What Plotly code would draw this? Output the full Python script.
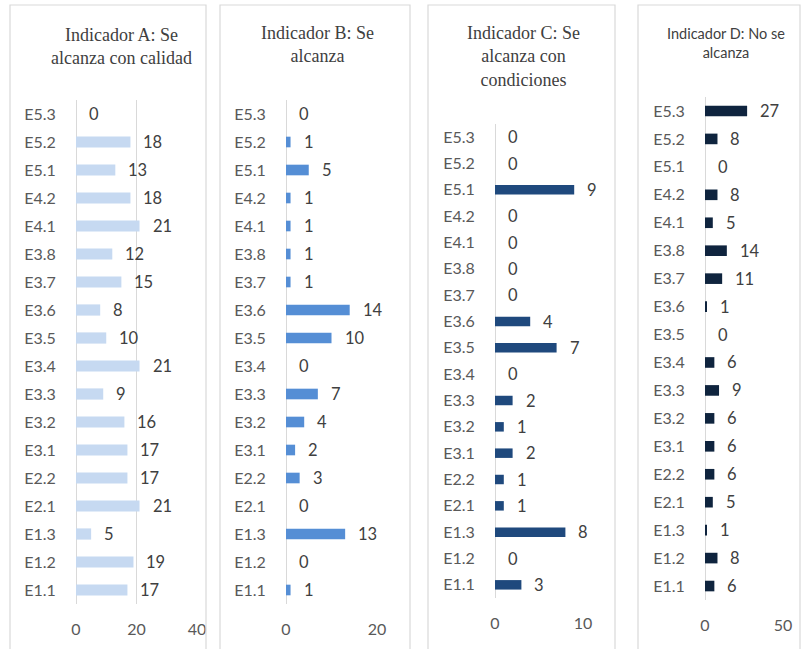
import plotly.graph_objects as go

# Categories listed bottom to top
categories = ["E1.1", "E1.2", "E1.3", "E2.1", "E2.2", "E3.1", "E3.2", "E3.3", "E3.4",
              "E3.5", "E3.6", "E3.7", "E3.8", "E4.1", "E4.2", "E5.1", "E5.2", "E5.3"]

ind_a = [17, 19, 5, 21, 17, 17, 16, 9, 21, 10, 8, 15, 12, 21, 18, 13, 18, 0]
ind_b = [1, 0, 13, 0, 3, 2, 4, 7, 0, 10, 14, 1, 1, 1, 1, 5, 1, 0]
ind_c = [3, 0, 8, 1, 1, 2, 1, 2, 0, 7, 4, 0, 0, 0, 0, 9, 0, 0]
ind_d = [6, 8, 1, 5, 6, 6, 6, 9, 6, 0, 1, 11, 14, 5, 8, 0, 8, 27]

titles = ["Indicador A: Se<br>alcanza con calidad",
          "Indicador B: Se<br>alcanza",
          "Indicador C: Se<br>alcanza con<br>condiciones",
          "Indicador D: No se<br>alcanza"]
tick_sets = [[0, 20, 40], [0, 20], [0, 10], [0, 50]]
ranges = [[0, 40], [0, 20], [0, 10], [0, 50]]
colors = ["#C6D9F1", "#558ED5", "#1F497D", "#0F243E"]
series = [ind_a, ind_b, ind_c, ind_d]

W, H = 803, 649
# layout in pixels: (x0, x1, y_top, y_bottom)
plot_px = [(76, 197, 100, 604), (286, 377, 100, 604), (495, 583, 124, 598), (705, 783, 97, 600)]
box_px = [(10, 206), (220, 410), (428, 615), (638, 800)]
title_px = [(121, 46), (317, 45), (523, 57), (726, 43)]
serif = dict(family="Liberation Serif", size=18, color="#404040")
title_fonts = [serif, serif, serif, dict(family="Lato", size=14.5, color="#404040")]
bargaps = [0.6, 0.62, 0.64, 0.62]

fig = go.Figure()
annotations = []
shapes = []
label_font = dict(family="Lato", size=16.5, color="#404040")
tick_font = dict(family="Lato", size=16, color="#595959")

for i in range(4):
    n = "" if i == 0 else str(i + 1)
    x0, x1, yt, yb = plot_px[i]
    fig.add_trace(go.Bar(
        x=series[i], y=categories, orientation="h",
        marker=dict(color=colors[i], line=dict(width=0)),
        xaxis="x" + n, yaxis="y" + n, showlegend=False,
        width=1 - bargaps[i], hoverinfo="x+y",
    ))
    fig.layout["xaxis" + n] = dict(
        domain=[x0 / W, x1 / W], range=ranges[i], tickvals=tick_sets[i],
        showgrid=True, gridcolor="#D9D9D9", gridwidth=1,
        zeroline=True, zerolinecolor="#D9D9D9", zerolinewidth=1,
        showline=False, ticks="outside", ticklen=11, tickcolor="rgba(0,0,0,0)",
        tickfont=tick_font, anchor="y" + n, fixedrange=True, automargin=False,
    )
    fig.layout["yaxis" + n] = dict(
        domain=[1 - yb / H, 1 - yt / H], type="category",
        categoryorder="array", categoryarray=categories, range=[-0.5, 17.5],
        showgrid=False, zeroline=False, showline=False,
        ticks="outside", ticklen=16, tickcolor="rgba(0,0,0,0)",
        tickfont=tick_font, anchor="x" + n, fixedrange=True, automargin=False,
    )
    for cat, v in zip(categories, series[i]):
        annotations.append(dict(
            x=v, y=cat, xref="x" + n, yref="y" + n, text=str(v),
            showarrow=False, xanchor="left", yanchor="middle", xshift=11,
            font=label_font,
        ))
    bx0, bx1 = box_px[i]
    shapes.append(dict(type="rect", xref="paper", yref="paper",
                       x0=bx0 / W, x1=bx1 / W, y0=-0.01, y1=1 - 5 / H,
                       line=dict(color="#D9D9D9", width=1.2), fillcolor="rgba(0,0,0,0)"))
    tx, ty = title_px[i]
    annotations.append(dict(x=tx / W, y=1 - ty / H, xref="paper", yref="paper",
                            text=titles[i], showarrow=False, xanchor="center",
                            yanchor="middle", font=title_fonts[i], align="center"))

fig.update_layout(
    template="none",
    width=W, height=H, margin=dict(l=0, r=0, t=0, b=0, pad=0),
    paper_bgcolor="white", plot_bgcolor="white",
    annotations=annotations, shapes=shapes, barmode="group",
)

fig.write_html("out.html", config={"displayModeBar": False},
               post_script="document.body.style.margin='0';document.body.style.overflow='hidden';")
